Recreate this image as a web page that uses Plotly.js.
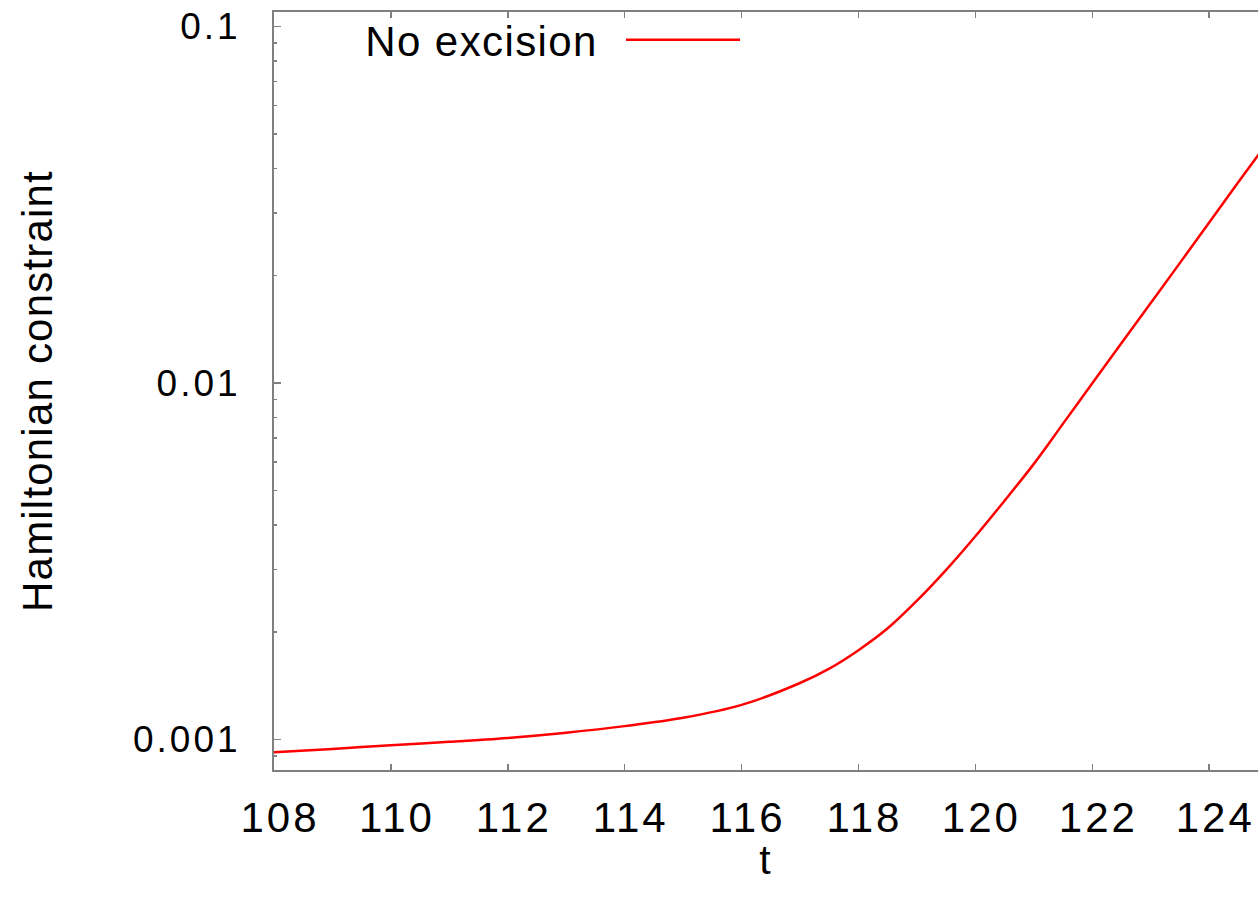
<!DOCTYPE html>
<html>
<head>
<meta charset="utf-8">
<script src="https://cdn.plot.ly/plotly-3.0.1.min.js"></script>
<style>
  html, body { margin: 0; padding: 0; background: #fff; }
  #chart { width: 1258px; height: 899px; }
  #chart .xtick text { letter-spacing: 3px; }
  #chart .ytick text { letter-spacing: 3px; }
  #chart .g-ytitle text { letter-spacing: 1.2px; }
  #chart .annotation-text { letter-spacing: 1.4px; }
</style>
</head>
<body>
<div id="chart"></div>
<script>
// Data
const seriesName = "No excision";
const xTitle = "t";
const yTitle = "Hamiltonian constraint";
const t = [108, 109, 110, 111, 112, 113, 114, 115, 116, 117, 117.5, 118, 118.5, 119, 119.5, 120, 120.5, 121, 121.5, 122, 122.5, 123, 123.5, 124, 124.5, 125];
const hamiltonian = [9.2e-4, 9.4e-4, 9.64e-4, 9.85e-4, 1.01e-3, 1.045e-3, 1.09e-3, 1.15e-3, 1.25e-3, 1.44e-3, 1.58e-3, 1.78e-3, 2.05e-3, 2.45e-3, 2.99e-3, 3.715e-3, 4.677e-3, 5.93e-3, 7.69e-3, 9.98e-3, 1.294e-2, 1.676e-2, 2.172e-2, 2.82e-2, 3.66e-2, 4.73e-2];
const yTickVals = [0.001, 0.01, 0.1];
const yTickText = ["0.001", "0.01", "0.1"];
const xTickVals = [108, 110, 112, 114, 116, 118, 120, 122, 124];

const axisColor = "#808080";
const fontFam = "Liberation Sans, Arial, sans-serif";

const trace = {
  x: t, y: hamiltonian, type: "scatter", mode: "lines", name: seriesName,
  line: { color: "#ff0000", width: 2.5, shape: "spline", smoothing: 1 }, showlegend: false
};

const layout = {
  width: 1258, height: 899,
  margin: { l: 274, r: 0, t: 12, b: 129 },
  paper_bgcolor: "#fff", plot_bgcolor: "#fff",
  font: { family: fontFam, size: 41, color: "#000" },
  xaxis: {
    range: [108, 124.835],
    tickvals: xTickVals,
    ticks: "inside", ticklen: 6, tickwidth: 1.5, tickcolor: axisColor,
    showline: true, linecolor: axisColor, linewidth: 2, mirror: "ticks",
    showgrid: false, zeroline: false,
    tickfont: { family: fontFam, size: 42, color: "#000" },
    ticklabelstandoff: 10,
    ticklabelshift: 6
  },
  yaxis: {
    type: "log",
    range: [Math.log10(0.000821), Math.log10(0.1098)],
    tickvals: yTickVals, ticktext: yTickText,
    ticks: "inside", ticklen: 7, tickwidth: 1.5, tickcolor: axisColor,
    minor: { ticks: "inside", ticklen: 3, tickwidth: 1.5, tickcolor: axisColor, dtick: "D1", showgrid: false },
    showline: true, linecolor: axisColor, linewidth: 2,
    showgrid: false, zeroline: false,
    tickfont: { family: fontFam, size: 37, color: "#000" },
    ticklabelstandoff: 24,
    title: { text: yTitle, font: { family: fontFam, size: 42, color: "#000" }, standoff: 82 }
  },
  annotations: [{
    xref: "paper", yref: "paper", x: 0.0985, y: 0.961,
    xanchor: "left", yanchor: "middle", showarrow: false,
    text: seriesName, font: { family: fontFam, size: 42, color: "#000" }
  }, {
    xref: "paper", yref: "paper", x: 0.5, y: -0.0858,
    xanchor: "center", yanchor: "top", showarrow: false,
    text: xTitle, font: { family: fontFam, size: 41, color: "#000" }
  }],
  shapes: [{
    type: "line", xref: "paper", yref: "paper",
    x0: 0.3577, x1: 0.4736, y0: 0.9635, y1: 0.9635,
    line: { color: "#ff0000", width: 2.5 }
  }]
};

Plotly.newPlot("chart", [trace], layout, { displayModeBar: false, staticPlot: true });
</script>
</body>
</html>
